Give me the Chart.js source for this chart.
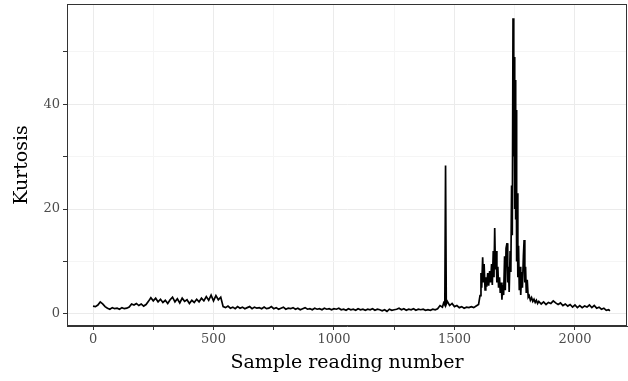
<!DOCTYPE html>
<html>
<head>
<meta charset="utf-8">
<script src="https://cdn.jsdelivr.net/npm/chart.js@4"></script>
<style>
  html, body { margin: 0; padding: 0; background: #fff; }
  #wrap { width: 628px; height: 381px; }
</style>
</head>
<body>
<div id="wrap"><canvas id="kurt"></canvas></div>
<script>
// readings taken off the original figure
const sampleNumber = [
  0, 10, 20, 30, 40, 50, 60, 70, 80, 90, 100, 110, 120, 130, 140, 150,
  160, 170, 180, 190, 200, 210, 220, 230, 240, 250, 260, 270, 280, 290,
  300, 310, 320, 330, 340, 350, 360, 370, 380, 390, 400, 410, 420, 430,
  440, 450, 460, 470, 480, 490, 500, 510, 520, 530, 540, 550, 560, 570,
  580, 590, 600, 610, 620, 630, 640, 650, 660, 670, 680, 690, 700, 710,
  720, 730, 740, 750, 760, 770, 780, 790, 800, 810, 820, 830, 840, 850,
  860, 870, 880, 890, 900, 910, 920, 930, 940, 950, 960, 970, 980, 990,
  1000, 1010, 1020, 1030, 1040, 1050, 1060, 1070, 1080, 1090, 1100, 1110,
  1120, 1130, 1140, 1150, 1160, 1170, 1180, 1190, 1200, 1210, 1220, 1230,
  1240, 1250, 1260, 1270, 1280, 1290, 1300, 1310, 1320, 1330, 1340, 1350,
  1360, 1370, 1380, 1390, 1400, 1410, 1420, 1430, 1440, 1450, 1455, 1460,
  1463, 1466, 1470, 1480, 1490, 1500, 1510, 1520, 1530, 1540, 1550, 1560,
  1570, 1580, 1590, 1600, 1606, 1610, 1613, 1617, 1620, 1623, 1627, 1630,
  1634, 1638, 1642, 1646, 1650, 1654, 1657, 1661, 1664, 1667, 1670, 1673,
  1676, 1680, 1683, 1687, 1690, 1694, 1697, 1700, 1704, 1708, 1711, 1714,
  1718, 1721, 1724, 1727, 1731, 1734, 1737, 1740, 1743, 1746, 1748, 1750,
  1752, 1754, 1756, 1758, 1760, 1763, 1766, 1769, 1772, 1775, 1779, 1782,
  1786, 1789, 1792, 1795, 1798, 1802, 1806, 1810, 1815, 1820, 1825, 1830,
  1835, 1840, 1845, 1850, 1860, 1870, 1880, 1890, 1900, 1910, 1920, 1930,
  1940, 1950, 1960, 1970, 1980, 1990, 2000, 2010, 2020, 2030, 2040, 2050,
  2060, 2070, 2080, 2090, 2100, 2110, 2120, 2130, 2140, 2145
];
const kurtosis = [
  1.5, 1.4, 1.7, 2.3, 1.9, 1.4, 1.1, 0.9, 1.2, 1.0, 1.1, 0.9, 1.2, 1.0, 1.1, 1.3,
  1.9, 1.7, 2.0, 1.6, 1.9, 1.5, 1.8, 2.4, 3.1, 2.5, 3.0, 2.3, 2.8, 2.2,
  2.6, 2.0, 2.7, 3.2, 2.3, 2.9, 2.1, 3.0, 2.4, 2.7, 2.0, 2.6, 2.2, 2.8,
  2.3, 3.0, 2.5, 3.3, 2.6, 3.6, 2.5, 3.5, 2.7, 3.2, 1.4, 1.2, 1.5, 1.1,
  1.3, 1.0, 1.4, 1.1, 1.3, 1.0, 1.2, 1.4, 1.0, 1.3, 1.1, 1.2, 1.0, 1.3,
  1.0, 1.1, 1.4, 1.0, 1.2, 0.9, 1.1, 1.3, 0.9, 1.1, 1.0, 1.2, 0.9, 1.1,
  0.8, 1.0, 1.2, 0.9, 1.0, 0.8, 1.1, 0.9, 1.0, 0.8, 1.1, 0.9, 1.0, 0.8,
  1.0, 0.9, 1.1, 0.8, 0.9, 0.7, 1.0, 0.8, 0.9, 0.7, 1.0, 0.8,
  0.9, 0.7, 0.9, 0.8, 1.0, 0.7, 0.9, 0.8, 0.6, 0.8, 0.5, 0.9,
  0.7, 0.8, 0.9, 1.1, 0.8, 1.0, 0.7, 0.9, 0.8, 1.0, 0.7, 0.9,
  0.8, 0.9, 0.7, 0.8, 0.7, 0.9, 0.8, 1.0, 1.6, 1.3, 2.1, 1.7,
  28.3, 1.9, 2.4, 1.6, 2.0, 1.4, 1.6, 1.2, 1.4, 1.1, 1.3, 1.2,
  1.4, 1.2, 1.5, 1.8, 3.5, 7.8, 5.0, 10.8, 6.0, 9.5, 4.6, 7.0,
  5.2, 7.8, 5.4, 8.2, 6.0, 9.5, 5.5, 12.0, 7.0, 16.4, 8.5, 12.0,
  6.0, 9.0, 5.0, 7.0, 4.0, 6.0, 2.7, 5.5, 3.6, 11.0, 4.5, 12.5,
  13.5, 6.0, 9.0, 4.2, 12.0, 8.0, 24.5, 15.0, 56.4, 30.0, 49.0, 20.0,
  44.6, 18.0, 38.9, 10.0, 23.0, 7.0, 13.0, 4.5, 9.0, 3.6, 8.0, 5.0,
  11.0, 14.1, 6.0, 9.0, 4.0, 6.5, 3.2, 3.5, 2.6, 3.1, 2.4, 2.8,
  2.2, 2.6, 2.0, 2.4, 1.9, 2.3, 1.8, 2.2, 2.0, 2.5, 2.1, 1.8,
  2.1, 1.6, 1.9, 1.5, 1.8, 1.3, 1.7, 1.2, 1.6, 1.2, 1.5, 1.3,
  1.7, 1.2, 1.6, 1.1, 1.3, 0.9, 1.1, 0.7, 0.8, 0.6
];
const xTickValues = [0, 250, 500, 750, 1000, 1250, 1500, 1750, 2000];
const yTickValues = [0, 10, 20, 30, 40, 50];
const xLabelEvery = 500;
const yLabelEvery = 20;

const SERIF = "'DejaVu Serif', 'Liberation Serif', serif";

const panelBorder = {
  id: 'panelBorder',
  afterDraw(chart) {
    const { ctx, chartArea: a } = chart;
    ctx.save();
    ctx.strokeStyle = '#333333';
    ctx.lineWidth = 1;
    ctx.strokeRect(a.left + 0.5, a.top + 0.5, a.right - a.left - 1, a.bottom - a.top - 1);
    ctx.restore();
  }
};

new Chart(document.getElementById('kurt'), {
  type: 'line',
  data: {
    datasets: [{
      data: sampleNumber.map((x, i) => ({ x, y: kurtosis[i] })),
      borderColor: '#000',
      borderWidth: 1.7,
      pointRadius: 0,
      tension: 0,
      fill: false
    }]
  },
  options: {
    responsive: true,
    maintainAspectRatio: false,
    animation: false,
    events: [],
    layout: { padding: { top: 4, right: 1, left: 0, bottom: 0 } },
    plugins: { legend: { display: false }, tooltip: { enabled: false } },
    scales: {
      x: {
        type: 'linear',
        min: -108,
        max: 2216,
        afterBuildTicks: s => { s.ticks = xTickValues.map(v => ({ value: v })); },
        afterFit: s => { s.height = 55; s.paddingLeft = 0; s.paddingRight = 0; },
        ticks: {
          autoSkip: false,
          maxRotation: 0,
          padding: 2,
          color: '#4d4d4d',
          font: { family: SERIF, size: 13 },
          callback: v => (v % xLabelEvery === 0 ? String(v) : '')
        },
        grid: {
          color: c => (c.tick && c.tick.value % xLabelEvery === 0 ? '#ebebeb' : '#f5f5f5'),
          lineWidth: 1,
          tickLength: 4,
          tickColor: '#333333'
        },
        border: { color: '#333333', width: 1 },
        title: {
          display: true,
          text: 'Sample reading number',
          color: '#000',
          font: { family: SERIF, size: 19 },
          padding: { top: 0, bottom: 7 }
        }
      },
      y: {
        type: 'linear',
        min: -2.3,
        max: 59.1,
        afterBuildTicks: s => { s.ticks = yTickValues.map(v => ({ value: v })); },
        afterFit: s => { s.width = 67; s.paddingTop = 0; s.paddingBottom = 0; },
        ticks: {
          autoSkip: false,
          padding: 3,
          color: '#4d4d4d',
          font: { family: SERIF, size: 13 },
          callback: v => (v % yLabelEvery === 0 ? String(v) : '')
        },
        grid: {
          color: c => (c.tick && c.tick.value % yLabelEvery === 0 ? '#ebebeb' : '#f5f5f5'),
          lineWidth: 1,
          tickLength: 4,
          tickColor: '#333333'
        },
        border: { color: '#333333', width: 1 },
        title: {
          display: true,
          text: 'Kurtosis',
          color: '#000',
          font: { family: SERIF, size: 19 },
          padding: { top: 11, bottom: 0 }
        }
      }
    }
  },
  plugins: [panelBorder]
});
</script>
</body>
</html>
